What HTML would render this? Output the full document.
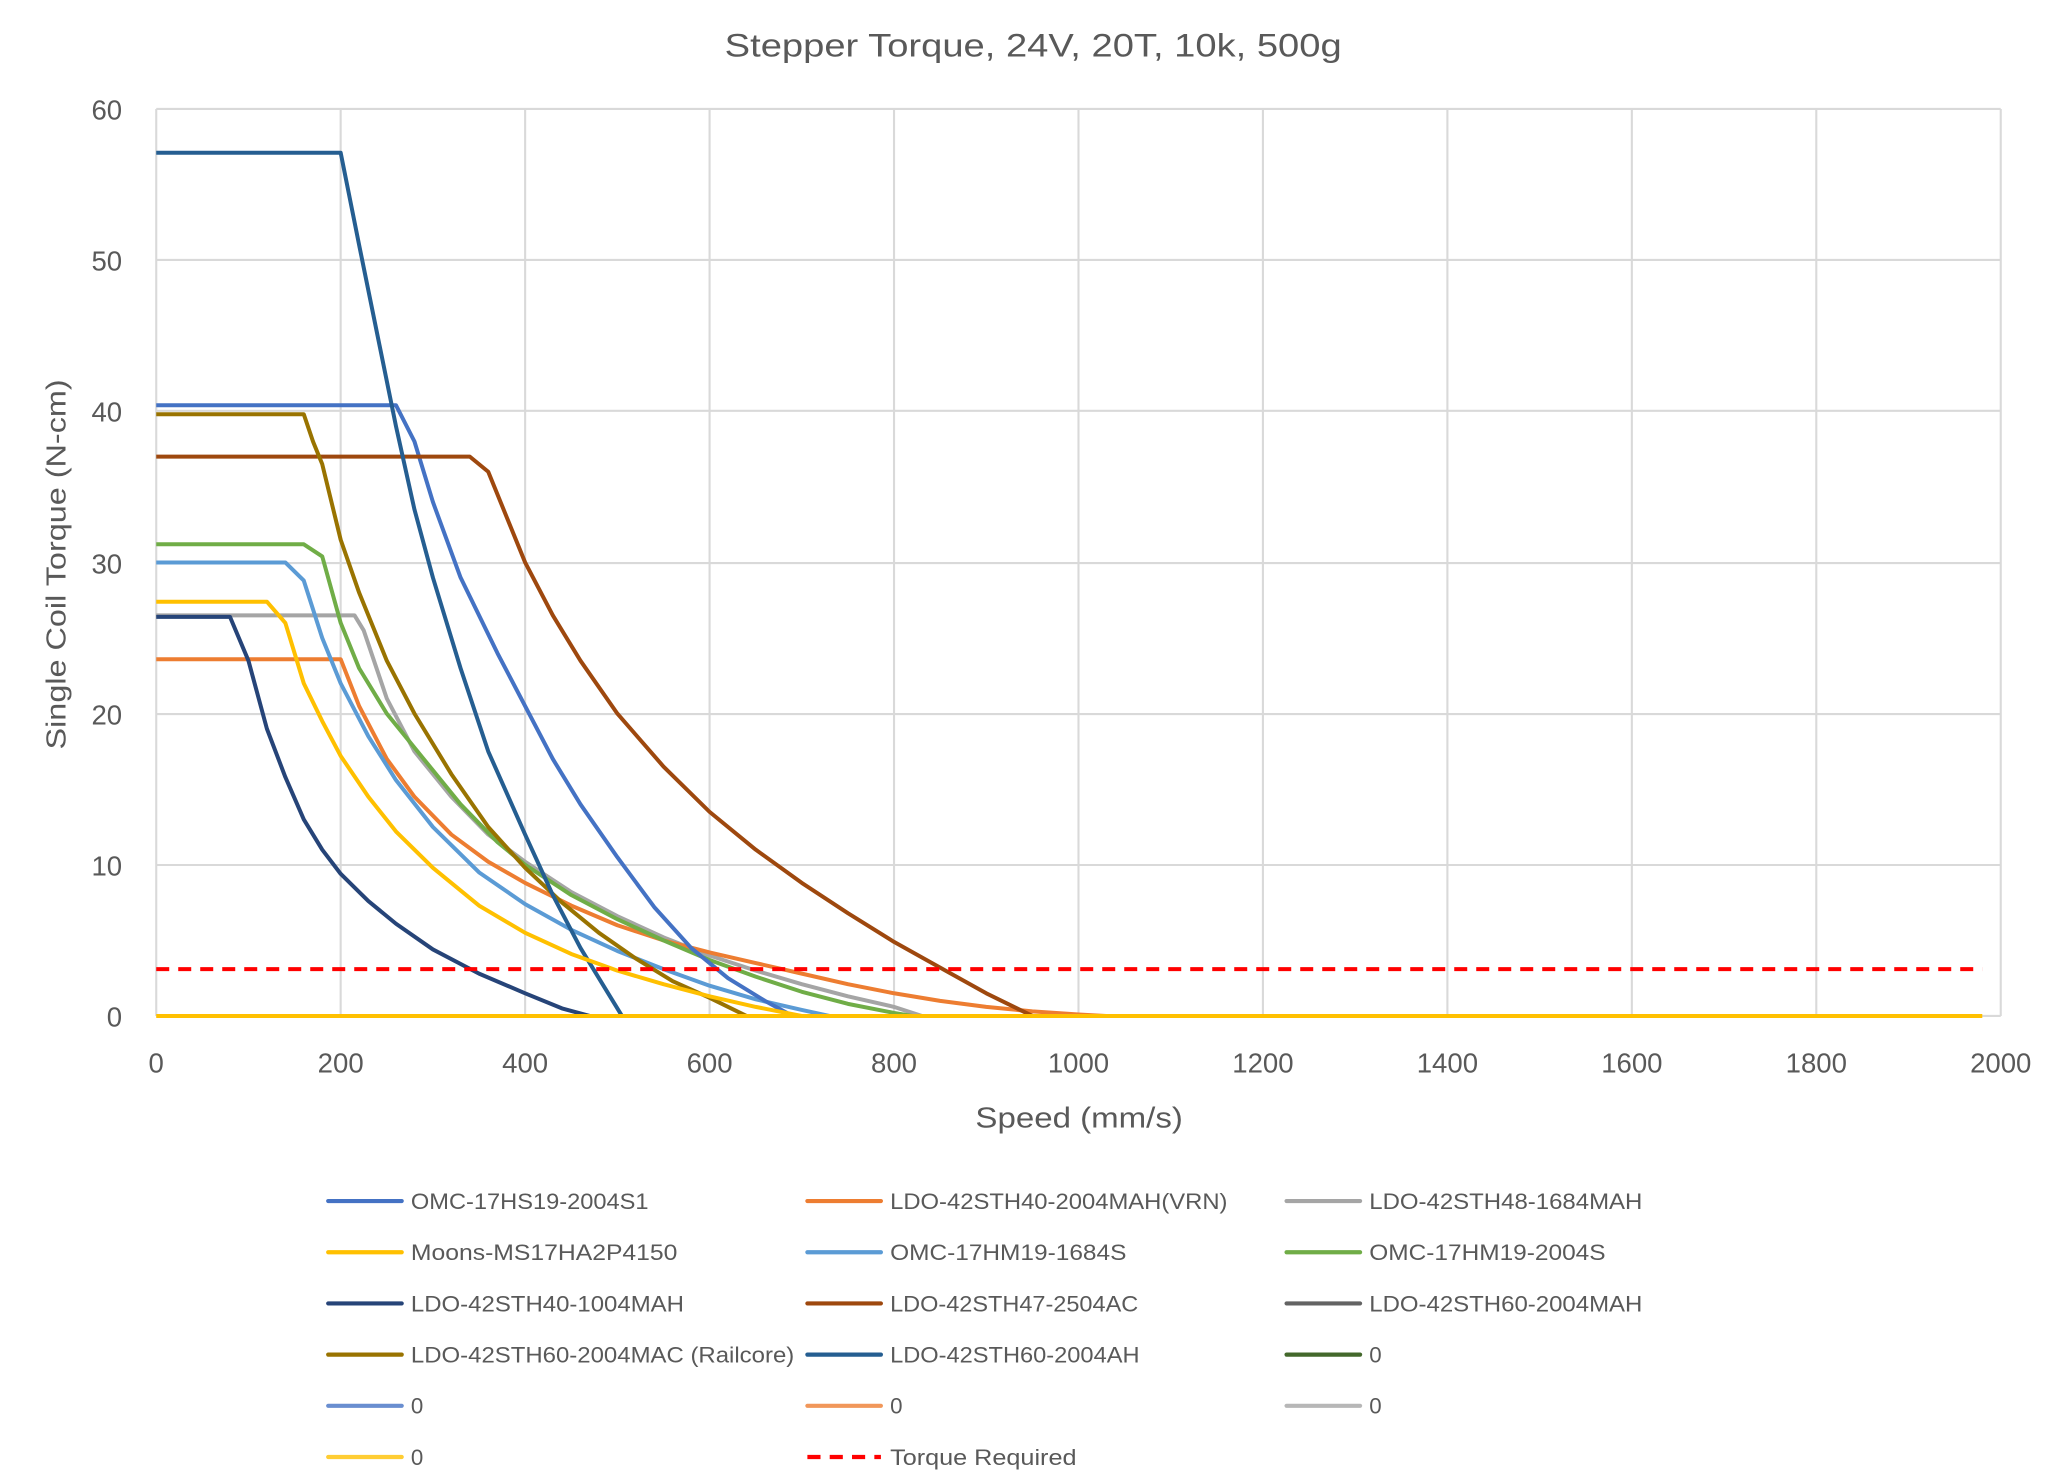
<!DOCTYPE html>
<html><head><meta charset="utf-8"><style>html,body{margin:0;padding:0;background:#fff}svg{display:block}</style></head>
<body>
<svg width="2048" height="1478" viewBox="0 0 1560 1126" preserveAspectRatio="none" xmlns="http://www.w3.org/2000/svg" font-family="'Liberation Sans', sans-serif" fill="#595959">
<rect width="1560" height="1126" fill="#fff"/>
<text x="787" y="43" font-size="25" text-anchor="middle" textLength="470" lengthAdjust="spacingAndGlyphs">Stepper Torque, 24V, 20T, 10k, 500g</text>
<g stroke="#d9d9d9" stroke-width="1.6">
<line x1="119" y1="83" x2="1524" y2="83"/><line x1="119" y1="198" x2="1524" y2="198"/><line x1="119" y1="313" x2="1524" y2="313"/><line x1="119" y1="429" x2="1524" y2="429"/><line x1="119" y1="544" x2="1524" y2="544"/><line x1="119" y1="659" x2="1524" y2="659"/><line x1="119" y1="774" x2="1524" y2="774"/>
<line x1="119" y1="83" x2="119" y2="774"/><line x1="259.5" y1="83" x2="259.5" y2="774"/><line x1="400" y1="83" x2="400" y2="774"/><line x1="540.5" y1="83" x2="540.5" y2="774"/><line x1="681" y1="83" x2="681" y2="774"/><line x1="821.5" y1="83" x2="821.5" y2="774"/><line x1="962" y1="83" x2="962" y2="774"/><line x1="1102.5" y1="83" x2="1102.5" y2="774"/><line x1="1243" y1="83" x2="1243" y2="774"/><line x1="1383.5" y1="83" x2="1383.5" y2="774"/><line x1="1524" y1="83" x2="1524" y2="774"/>
</g>
<g font-size="21" text-anchor="end">
<text x="93" y="91">60</text><text x="93" y="206">50</text><text x="93" y="321">40</text><text x="93" y="437">30</text><text x="93" y="552">20</text><text x="93" y="667">10</text><text x="93" y="782">0</text>
</g>
<g font-size="21" text-anchor="middle">
<text x="119" y="817">0</text><text x="259.5" y="817">200</text><text x="400" y="817">400</text><text x="540.5" y="817">600</text><text x="681" y="817">800</text><text x="821.5" y="817">1000</text><text x="962" y="817">1200</text><text x="1102.5" y="817">1400</text><text x="1243" y="817">1600</text><text x="1383.5" y="817">1800</text><text x="1524" y="817">2000</text>
</g>
<text x="822" y="859" font-size="22" text-anchor="middle" textLength="158" lengthAdjust="spacingAndGlyphs">Speed (mm/s)</text>
<text transform="translate(50,430) rotate(-90)" font-size="21" text-anchor="middle" textLength="282" lengthAdjust="spacingAndGlyphs">Single Coil Torque (N-cm)</text>
<g transform="translate(119,774) scale(0.7025,-11.517)" fill="none" stroke-width="4" stroke-linejoin="round">
<polyline vector-effect="non-scaling-stroke" stroke="#A5A5A5" points="0,26.5 215,26.5 225,25.5 250,21 280,17.5 320,14.5 360,12 400,10.2 450,8.2 500,6.6 550,5.2 600,4 650,3 700,2.1 750,1.3 800,0.6 830,0"/>
<polyline vector-effect="non-scaling-stroke" stroke="#ED7D31" points="0,23.6 200,23.6 220,20.5 250,17 280,14.5 320,12 360,10.2 400,8.8 450,7.3 500,6 550,5 600,4.2 650,3.5 700,2.8 750,2.1 800,1.5 850,1 900,0.6 950,0.3 1000,0.1 1030,0"/>
<polyline vector-effect="non-scaling-stroke" stroke="#5B9BD5" points="0,30 140,30 160,28.8 180,25 200,22 230,18.5 260,15.6 300,12.5 350,9.5 400,7.4 450,5.7 500,4.3 550,3.1 600,2 650,1.1 700,0.4 730,0"/>
<polyline vector-effect="non-scaling-stroke" stroke="#70AD47" points="0,31.2 160,31.2 180,30.4 200,26 220,23 250,20 290,17 330,14 370,11.5 400,10 450,8 500,6.4 550,5 600,3.7 650,2.6 700,1.6 750,0.8 800,0.2 820,0"/>
<polyline vector-effect="non-scaling-stroke" stroke="#4472C4" points="0,40.4 260,40.4 280,38 300,34 330,29 370,24 400,20.5 430,17 460,14 500,10.5 540,7.2 580,4.5 620,2.5 660,1 690,0"/>
<polyline vector-effect="non-scaling-stroke" stroke="#9E480E" points="0,37 340,37 360,36 380,33 400,30 430,26.5 460,23.5 500,20 550,16.5 600,13.5 650,11 700,8.8 750,6.8 800,4.9 850,3.2 900,1.5 950,0 960,0"/>
<polyline vector-effect="non-scaling-stroke" stroke="#997300" points="0,39.8 160,39.8 170,38 180,36.5 200,31.5 220,28 250,23.5 280,20 320,16 360,12.5 400,9.8 440,7.5 480,5.5 520,3.8 560,2.3 600,1.2 640,0"/>
<polyline vector-effect="non-scaling-stroke" stroke="#264478" points="0,26.4 80,26.4 100,23.5 120,19 140,15.8 160,13 180,11 200,9.4 230,7.6 260,6.1 300,4.4 350,2.8 400,1.5 440,0.5 470,0"/>
<polyline vector-effect="non-scaling-stroke" stroke="#255E91" points="0,57.1 200,57.1 220,51 240,45 260,39 280,33.5 300,29 330,23 360,17.5 400,12 430,8 460,4.5 490,1.5 505,0"/>
<polyline vector-effect="non-scaling-stroke" stroke="#FFC000" points="0,27.4 120,27.4 140,26 160,22 180,19.5 200,17.2 230,14.5 260,12.2 300,9.8 350,7.3 400,5.5 450,4.1 500,3 550,2.1 600,1.3 650,0.6 700,0"/>
<line vector-effect="non-scaling-stroke" x1="0" y1="0" x2="1980" y2="0" stroke="#FFC000"/>
<line vector-effect="non-scaling-stroke" x1="0" y1="3.1" x2="1980" y2="3.1" stroke="#FF0000" stroke-dasharray="13,9"/>
</g>
<g stroke-width="3.2" stroke-linecap="round">
<line x1="250" y1="915" x2="306" y2="915" stroke="#4472C4"/><line x1="615" y1="915" x2="671" y2="915" stroke="#ED7D31"/><line x1="980" y1="915" x2="1036" y2="915" stroke="#A5A5A5"/>
<line x1="250" y1="954" x2="306" y2="954" stroke="#FFC000"/><line x1="615" y1="954" x2="671" y2="954" stroke="#5B9BD5"/><line x1="980" y1="954" x2="1036" y2="954" stroke="#70AD47"/>
<line x1="250" y1="993" x2="306" y2="993" stroke="#264478"/><line x1="615" y1="993" x2="671" y2="993" stroke="#9E480E"/><line x1="980" y1="993" x2="1036" y2="993" stroke="#636363"/>
<line x1="250" y1="1032" x2="306" y2="1032" stroke="#997300"/><line x1="615" y1="1032" x2="671" y2="1032" stroke="#255E91"/><line x1="980" y1="1032" x2="1036" y2="1032" stroke="#43682B"/>
<line x1="250" y1="1071" x2="306" y2="1071" stroke="#698ED0"/><line x1="615" y1="1071" x2="671" y2="1071" stroke="#F1975A"/><line x1="980" y1="1071" x2="1036" y2="1071" stroke="#B7B7B7"/>
<line x1="250" y1="1110" x2="306" y2="1110" stroke="#FFCD33"/><line x1="615" y1="1110" x2="671" y2="1110" stroke="#FF0000" stroke-dasharray="10,7" stroke-linecap="butt"/>
</g>
<g font-size="17">
<text x="313" y="921" textLength="181" lengthAdjust="spacingAndGlyphs">OMC-17HS19-2004S1</text>
<text x="678" y="921" textLength="257" lengthAdjust="spacingAndGlyphs">LDO-42STH40-2004MAH(VRN)</text>
<text x="1043" y="921" textLength="208" lengthAdjust="spacingAndGlyphs">LDO-42STH48-1684MAH</text>
<text x="313" y="960" textLength="203" lengthAdjust="spacingAndGlyphs">Moons-MS17HA2P4150</text>
<text x="678" y="960" textLength="180" lengthAdjust="spacingAndGlyphs">OMC-17HM19-1684S</text>
<text x="1043" y="960" textLength="180" lengthAdjust="spacingAndGlyphs">OMC-17HM19-2004S</text>
<text x="313" y="999" textLength="208" lengthAdjust="spacingAndGlyphs">LDO-42STH40-1004MAH</text>
<text x="678" y="999" textLength="189" lengthAdjust="spacingAndGlyphs">LDO-42STH47-2504AC</text>
<text x="1043" y="999" textLength="208" lengthAdjust="spacingAndGlyphs">LDO-42STH60-2004MAH</text>
<text x="313" y="1038" textLength="292" lengthAdjust="spacingAndGlyphs">LDO-42STH60-2004MAC (Railcore)</text>
<text x="678" y="1038" textLength="190" lengthAdjust="spacingAndGlyphs">LDO-42STH60-2004AH</text>
<text x="1043" y="1038">0</text>
<text x="313" y="1077">0</text><text x="678" y="1077">0</text><text x="1043" y="1077">0</text>
<text x="313" y="1116">0</text>
<text x="678" y="1116" textLength="142" lengthAdjust="spacingAndGlyphs">Torque Required</text>
</g>
</svg>
</body></html>
